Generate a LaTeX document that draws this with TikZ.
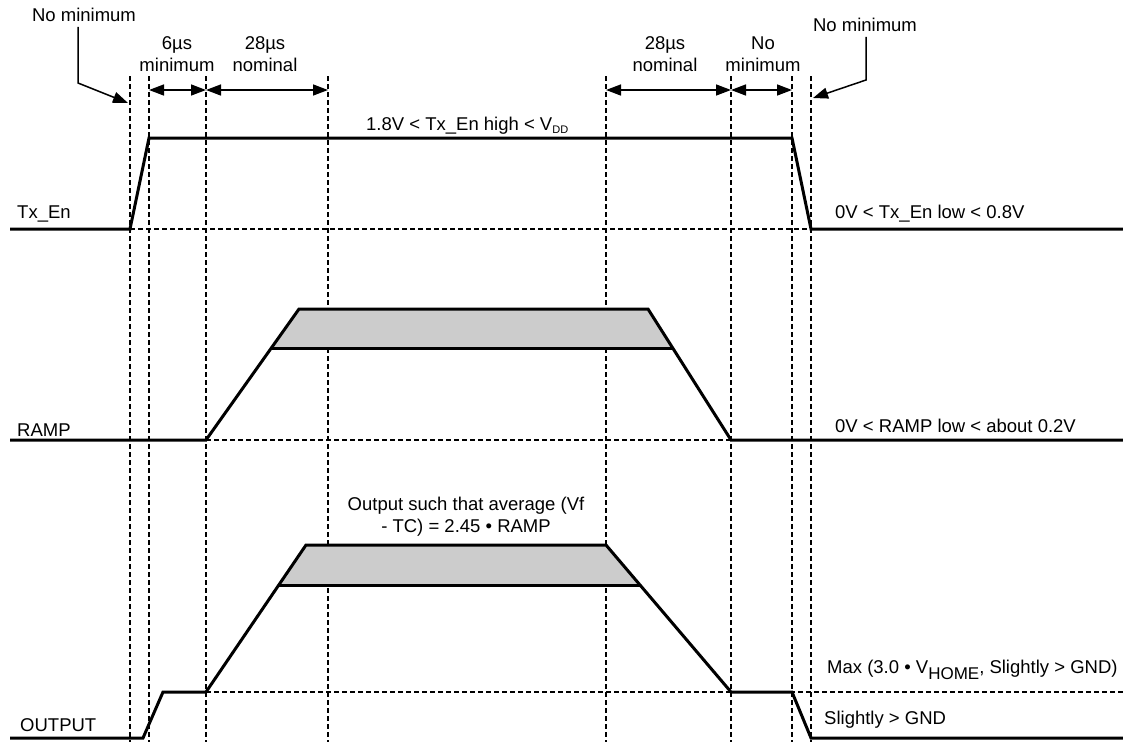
\documentclass[tikz,border=0pt]{standalone}
\usepackage{fontspec}
\setmainfont{Liberation Sans}
\usetikzlibrary{arrows.meta}
\begin{document}
\begin{tikzpicture}[x=1pt,y=-1pt,
    sig/.style={line width=3pt},
    guide/.style={line width=1.2pt,dash pattern=on 5pt off 3pt},
    dim/.style={line width=1.5pt,{Triangle[length=15pt,width=11pt]}-{Triangle[length=15pt,width=11pt]}},
    lead/.style={line width=1.5pt,-{Triangle[length=15pt,width=11pt]}},
    band/.style={fill=black!20},
    lbl/.style={inner sep=0pt,font=\fontsize{18.5pt}{22pt}\selectfont,align=center}]
  \useasboundingbox (0,0) rectangle (1123,742);
  % guide lines
  \foreach \x in {130,149,206,328,606,731,792,811}
    \draw[guide] (\x,76) -- (\x,742);
  \draw[guide] (130,229) -- (811,229);
  \draw[guide] (206,440) -- (731,440);
  \draw[guide] (206,692) -- (1123,692);
  % shaded bands
  \fill[band] (272,348) -- (299,309) -- (648,309) -- (672,348) -- cycle;
  \fill[band] (279,585) -- (306,545) -- (606,545) -- (640,585) -- cycle;
  % signals
  \draw[sig] (10,229) -- (130,229) -- (149,138) -- (792,138) -- (811,229) -- (1123,229);
  \draw[sig] (10,440) -- (206,440) -- (299,309) -- (648,309) -- (731,440) -- (1123,440);
  \draw[sig] (272,348) -- (672,348);
  \draw[sig] (10,738) -- (143,738) -- (163,692) -- (206,692) -- (306,545) -- (606,545)
    -- (731,692) -- (792,692) -- (811,738) -- (1123,738);
  \draw[sig] (279,585) -- (640,585);
  % labels
  \node[lbl](txen) at (17,218.6) [anchor=base west] {Tx\_En};
  \node[lbl](ramp) at (17,436.6) [anchor=base west] {RAMP};
  \node[lbl](out) at (20,731.6) [anchor=base west] {OUTPUT};
  \node[lbl](hi) at (366,130) [anchor=base west] {1.8V < Tx\_En high < V\raisebox{-3pt}{\fontsize{11pt}{11pt}\selectfont DD}};
  \node[lbl](lo) at (835,218.6) [anchor=base west] {0V < Tx\_En low < 0.8V};
  \node[lbl](rlo) at (835,432) [anchor=base west] {0V < RAMP low < about 0.2V};
  \node[lbl](avg) at (466,517) {Output such that average (Vf\\- TC) = 2.45 • RAMP};
  \node[lbl](max) at (827,673.6) [anchor=base west] {Max (3.0 • V\raisebox{-6pt}{\fontsize{17pt}{17pt}\selectfont HOME}, Slightly > GND)};
  \node[lbl](gnd) at (824,724.6) [anchor=base west] {Slightly > GND};
  \node[lbl](t1) at (177,54) {6µs\\minimum};
  \node[lbl](t2) at (265,54) {28µs\\nominal};
  \node[lbl](t3) at (665,54) {28µs\\nominal};
  \node[lbl](t4) at (763,54) {No\\minimum};
  \node[lbl](nm1) at (84,15) {No minimum};
  \node[lbl](nm2) at (865,25) {No minimum};
  % dimension arrows
  \coordinate (d1) at (149,90);
  \coordinate (d2) at (206,90);
  \coordinate (d3) at (328,90);
  \coordinate (d4) at (606,90);
  \coordinate (d5) at (731,90);
  \coordinate (d6) at (792,90);
  \path[dim] (d1) edge (d2);
  \path[dim] (d2) edge (d3);
  \path[dim] (d4) edge (d5);
  \path[dim] (d5) edge (d6);
  % leaders
  \coordinate (k1) at (78,83);
  \coordinate (p1) at (128,103);
  \coordinate (k2) at (866,80);
  \coordinate (p2) at (813,98);
  \draw[lead] (nm1.south -| k1) ++(0,5) -- (k1) -- (p1);
  \draw[lead] (nm2.south -| k2) ++(0,5) -- (k2) -- (p2);
\end{tikzpicture}
\end{document}
